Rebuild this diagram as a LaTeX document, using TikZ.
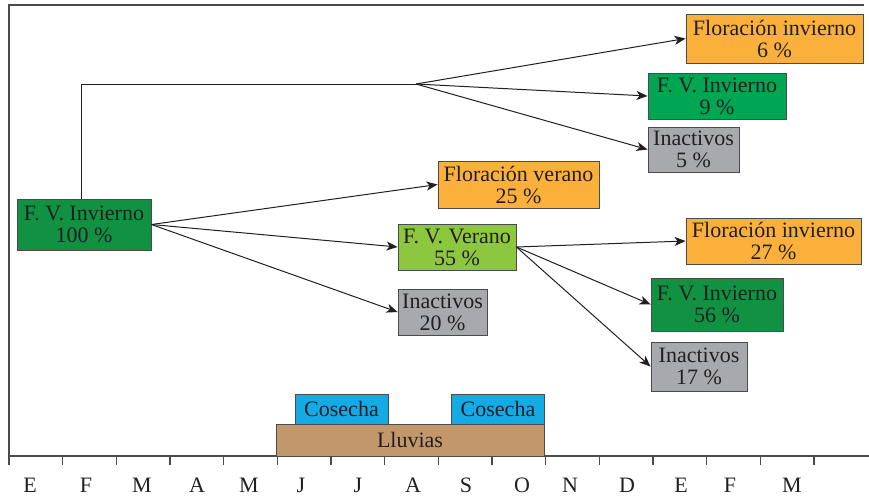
\documentclass[tikz,border=0pt]{standalone}
\usepackage{fontspec}
\setmainfont{Liberation Serif}
\usetikzlibrary{arrows.meta}
\definecolor{nj}{RGB}{251, 176, 59}
\definecolor{vo}{RGB}{17, 146, 66}
\definecolor{vc}{RGB}{0, 166, 81}
\definecolor{vl}{RGB}{141, 198, 63}
\definecolor{gr}{RGB}{167, 169, 172}
\definecolor{az}{RGB}{20, 171, 228}
\definecolor{cf}{RGB}{194, 151, 107}
\definecolor{tx}{RGB}{35, 31, 32}
\definecolor{ln}{RGB}{75, 75, 77}

\begin{document}
\begin{tikzpicture}[x=1pt, y=-1pt, font=\fontsize{22}{22}\selectfont, text=tx,
    caja/.style={draw=ln, line width=0.9pt, inner sep=0pt, align=center},
    flecha/.style={-{Stealth[length=11pt,width=9pt,inset=3pt]}, line width=1pt, draw=tx},
    marco/.style={line width=1.2pt, draw=ln}]
  \useasboundingbox (0,0) rectangle (869,496);

  % marco y eje de meses
  \draw[marco] (864,5) -| (9,456) -- (869,456);
  \foreach \i in {0,...,15}
    \draw[marco] (9+53.67*\i,456) -- ++(0,9);
  \foreach \m/\x in {E/30,F/86,M/142,A/197,M/249,J/301,J/358,A/413,
                     S/466,O/522,N/570,D/627,E/681,F/730,M/792}
    \node (m\x) at (\x,485) {\m};

  % lluvias y cosecha
  \node[caja, fill=cf, minimum width=268pt, minimum height=32pt] (LL) at (410,440) {Lluvias};
  \node[caja, fill=az, minimum width=93pt, minimum height=30pt] (C1) at (341.5,409) {Cosecha};
  \node[caja, fill=az, minimum width=93pt, minimum height=30pt] (C2) at (498,409) {Cosecha};

  % estados
  \node[caja, fill=vo, minimum width=134pt, minimum height=51pt] (FVI) at (84,224.5) {F. V. Invierno\\100 \%};

  \node[caja, fill=nj, minimum width=177pt, minimum height=49pt] (FI6) at (774.5,38.5) {Floración invierno\\6 \%};
  \node[caja, fill=vc, minimum width=138pt, minimum height=46pt] (FV9) at (717,96) {F. V. Invierno\\9 \%};
  \node[caja, fill=gr, minimum width=91pt, minimum height=45pt] (IN5) at (693.5,149.5) {Inactivos\\5 \%};

  \node[caja, fill=nj, minimum width=161pt, minimum height=47pt] (FL25) at (518.5,184.5) {Floración verano\\25 \%};
  \node[caja, fill=vl, minimum width=118pt, minimum height=46pt] (FV55) at (457,247) {F. V. Verano\\55 \%};
  \node[caja, fill=gr, minimum width=89pt, minimum height=46pt] (IN20) at (442.5,312) {Inactivos\\20 \%};

  \node[caja, fill=nj, minimum width=175pt, minimum height=46pt] (FI27) at (773.5,241) {Floración invierno\\27 \%};
  \node[caja, fill=vo, minimum width=132pt, minimum height=53pt] (FV56) at (717,304.5) {F. V. Invierno\\56 \%};
  \node[caja, fill=gr, minimum width=96pt, minimum height=49pt] (IN17) at (699,366.5) {Inactivos\\17 \%};

  % ramas
  \coordinate (esq) at (81,84);
  \coordinate (div) at (416,84);
  \draw[line width=1pt, draw=tx] (esq |- FVI.north) -- (esq) -- (div);
  \draw[flecha] (div) -- (FI6.west);
  \draw[flecha] (div) -- (FV9.west);
  \draw[flecha] (div) -- (IN5.west);

  \draw[flecha] (FVI.east) -- (FL25.west);
  \draw[flecha] (FVI.east) -- (FV55.west);
  \draw[flecha] (FVI.east) -- (IN20.west);

  \draw[flecha] (FV55.east) -- (FI27.west);
  \draw[flecha] (FV55.east) -- (FV56.west);
  \draw[flecha] (FV55.east) -- (IN17.west);
\end{tikzpicture}
\end{document}
